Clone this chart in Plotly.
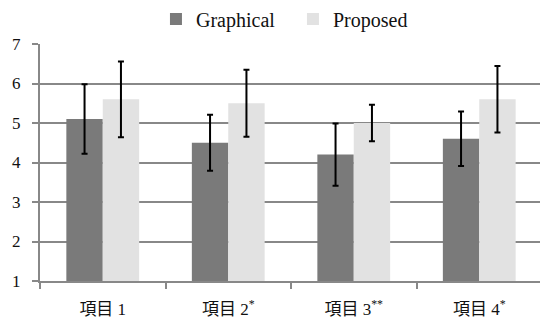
import plotly.graph_objects as go

categories = ["項目 1", "項目 2<sup>*</sup>", "項目 3<sup>**</sup>", "項目 4<sup>*</sup>"]
graphical = [5.1, 4.5, 4.2, 4.6]
graphical_err = [0.88, 0.71, 0.79, 0.69]
proposed = [5.6, 5.5, 5.0, 5.6]
proposed_err = [0.96, 0.85, 0.46, 0.84]
y_ticks = [1, 2, 3, 4, 5, 6, 7]

FONT = "'Liberation Serif', 'Times New Roman', 'DejaVu Serif', serif"
XFONT = "'Liberation Serif', 'Noto Sans CJK JP', serif"

fig = go.Figure()
fig.add_trace(go.Bar(
    name="Graphical", x=categories, y=[v - 1 for v in graphical], base=1,
    marker=dict(color="#7a7a7a", line=dict(width=0)),
    error_y=dict(type="data", array=graphical_err, color="#000000", thickness=2, width=3),
))
fig.add_trace(go.Bar(
    name="Proposed", x=categories, y=[v - 1 for v in proposed], base=1,
    marker=dict(color="#e2e2e2", line=dict(width=0)),
    error_y=dict(type="data", array=proposed_err, color="#000000", thickness=2, width=3),
))

# page body has an 8px margin, so the figure is 540x312 drawn at (8, 8)
fig.update_layout(
    width=540, height=312,
    margin=dict(l=32, r=6, t=36, b=39, autoexpand=False),
    paper_bgcolor="white", plot_bgcolor="white",
    barmode="group", bargap=0.42, bargroupgap=0,
    font=dict(family=FONT, size=17, color="#111111"),
    showlegend=True,
    legend=dict(orientation="h", x=0.231, xanchor="left", yref="container", y=0.965, yanchor="middle",
                font=dict(size=20, family=FONT), itemwidth=30, entrywidth=92,
                bgcolor="rgba(0,0,0,0)"),
    xaxis=dict(
        type="category", showgrid=False, showline=True, linecolor="#888888", linewidth=2,
        ticks="outside", tickson="boundaries", ticklen=6, tickcolor="#888888", tickwidth=1.5,
        tickfont=dict(size=17, family=XFONT), ticklabelstandoff=12,
        automargin=False,
    ),
    yaxis=dict(
        range=[1, 7], tickvals=y_ticks, showgrid=True, gridcolor="#888888", gridwidth=2,
        showline=True, linecolor="#888888", linewidth=2,
        ticks="outside", ticklen=6, tickcolor="#888888", tickwidth=2,
        tickfont=dict(size=17, family=FONT), zeroline=False, automargin=False,
        ticklabelstandoff=8,
    ),
)

fig.write_html("out.html")
